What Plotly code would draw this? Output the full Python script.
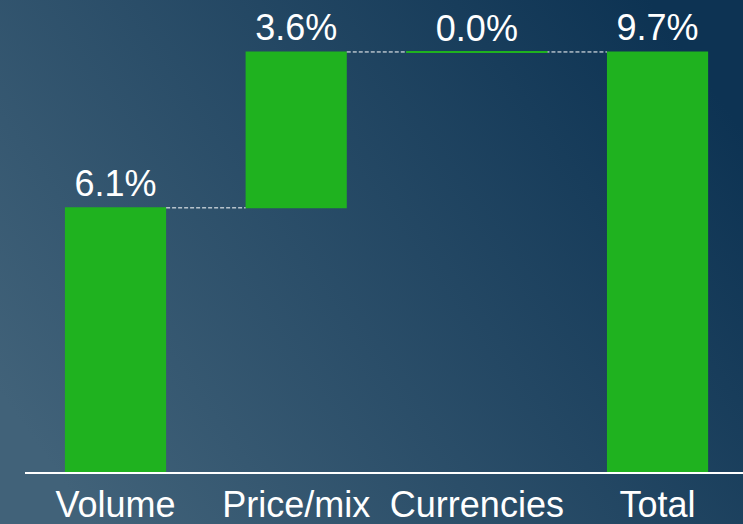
import base64

import plotly.graph_objects as go

# ── data ──────────────────────────────────────────────────────────────
categories = ["Volume", "Price/mix", "Currencies", "Total"]
values     = [6.1, 3.6, 0.0, 9.7]
measures   = ["relative", "relative", "relative", "total"]
labels     = [f"{v:.1f}%" for v in values]

GREEN = "#1fb21f"
FONT  = "Liberation Sans, Arial, sans-serif"

# running level of each step (used to keep a zero step visible as a thin line)
levels, run = [], 0.0
for v, m in zip(values, measures):
    run = v if m == "total" else run + v
    levels.append(run)
zero_x = [c for c, v, m in zip(categories, values, measures) if m == "relative" and v == 0]
zero_y = [l for l, v, m in zip(levels, values, measures) if m == "relative" and v == 0]

# gradient background (slate blue on the left -> dark navy on the right)
svg = (
    '<svg xmlns="http://www.w3.org/2000/svg" width="743" height="524" preserveAspectRatio="none">'
    '<defs><linearGradient id="g" x1="0" y1="0.75" x2="1" y2="0.25">'
    '<stop offset="0" stop-color="#416279"/>'
    '<stop offset="1" stop-color="#0d3353"/>'
    '</linearGradient></defs>'
    '<rect width="743" height="524" fill="url(#g)"/></svg>'
)
bg_src = "data:image/svg+xml;base64," + base64.b64encode(svg.encode()).decode()

fig = go.Figure()

fig.add_trace(
    go.Waterfall(
        x=categories,
        y=values,
        measure=measures,
        text=labels,
        textposition="outside",
        textfont=dict(family=FONT, size=36, color="white"),
        cliponaxis=False,
        increasing=dict(marker=dict(color=GREEN)),
        decreasing=dict(marker=dict(color=GREEN)),
        totals=dict(marker=dict(color=GREEN)),
        connector=dict(mode="between", line=dict(color="white", width=1, dash="4px,2px")),
        hoverinfo="skip",
    )
)

# zero-height step drawn as a thin green line
fig.add_trace(
    go.Scatter(
        x=zero_x, y=zero_y, mode="markers",
        marker=dict(symbol="line-ew", size=101, line=dict(color=GREEN, width=2)),
        hoverinfo="skip", cliponaxis=False,
    )
)

W, H = 743, 524
ML, MB = 25, 52
pw, ph = W - ML, H - MB

fig.update_layout(
    width=W, height=H,
    margin=dict(l=ML, r=0, t=0, b=MB, pad=0),
    paper_bgcolor="#284b67",
    plot_bgcolor="rgba(0,0,0,0)",
    showlegend=False,
    waterfallgap=0.44,
    font=dict(family=FONT, color="white"),
    images=[dict(
        source=bg_src, xref="paper", yref="paper",
        x=-ML / pw, y=1, sizex=W / pw, sizey=H / ph,
        xanchor="left", yanchor="top", sizing="stretch", layer="below",
    )],
    xaxis=dict(
        range=[-0.501, 3.473],
        showgrid=False, zeroline=False,
        showline=True, linecolor="white", linewidth=2,
        ticks="", tickfont=dict(family=FONT, size=36, color="white"),
    ),
    yaxis=dict(
        range=[0, 10.9],
        visible=False, showgrid=False, zeroline=False,
    ),
)

fig.write_html(
    "out.html",
    config={"displayModeBar": False},
    post_script="document.body.style.margin='0';document.body.style.overflow='hidden';",
)
